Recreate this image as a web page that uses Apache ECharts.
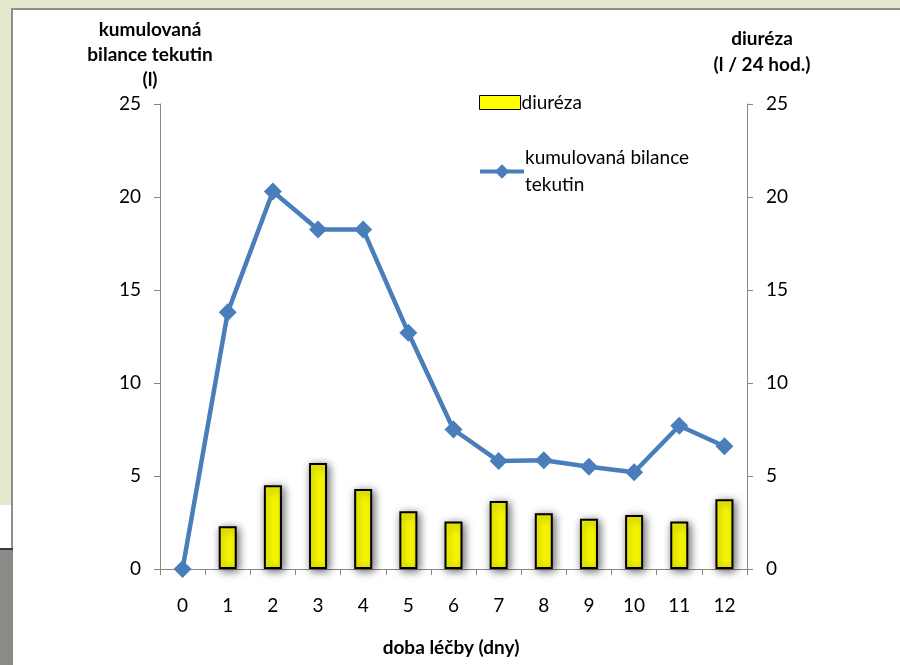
<!DOCTYPE html>
<html>
<head>
<meta charset="utf-8">
<script src="https://cdn.jsdelivr.net/npm/echarts@6/dist/echarts.min.js"></script>
<style>
html,body{margin:0;padding:0;background:#ffffff;}
#chart{width:900px;height:665px;}
</style>
</head>
<body>
<div id="chart"></div>
<script>
const days = ['0','1','2','3','4','5','6','7','8','9','10','11','12'];
const diureza = [null, 2.3, 4.5, 5.7, 4.3, 3.1, 2.55, 3.65, 3.0, 2.7, 2.9, 2.55, 3.75];
const bilance = [0, 13.8, 20.3, 18.25, 18.25, 12.7, 7.5, 5.8, 5.85, 5.5, 5.2, 7.7, 6.6];
const yTicks = [0, 5, 10, 15, 20, 25];

const FONT = 'Lato, "Open Sans", sans-serif';
const chart = echarts.init(document.getElementById('chart'), null, {renderer: 'canvas'});

const axisStyle = {show: true, lineStyle: {color: '#868686', width: 1}};

chart.setOption({
  backgroundColor: '#ffffff',
  animation: false,
  textStyle: {fontFamily: FONT},
  graphic: [
    {type: 'rect', z: -10, silent: true, shape: {x: 0, y: 0, width: 900, height: 9}, style: {fill: '#e3e9cd'}},
    {type: 'rect', z: -10, silent: true, shape: {x: 0, y: 0, width: 12, height: 505}, style: {fill: '#e3e9cd'}},
    {type: 'rect', z: -9, silent: true, shape: {x: 12, y: 8, width: 888, height: 2}, style: {fill: '#8e8e8e'}},
    {type: 'rect', z: -9, silent: true, shape: {x: 11, y: 8, width: 2, height: 541}, style: {fill: '#8e8e8e'}},
    {type: 'rect', z: -9, silent: true, shape: {x: 0, y: 548, width: 13, height: 2}, style: {fill: '#3a3a3a'}},
    {type: 'rect', z: -9, silent: true, shape: {x: 0, y: 550, width: 13, height: 115}, style: {fill: '#898b86'}},
    {type: 'text', silent: true, x: 150, y: 17, style: {text: 'kumulovaná\nbilance tekutin\n(l)', font: 'bold 19px ' + FONT, fill: '#000', align: 'center', verticalAlign: 'top', lineHeight: 25}},
    {type: 'text', silent: true, x: 762, y: 26, style: {text: 'diuréza\n(l / 24 hod.)', font: 'bold 19px ' + FONT, fill: '#000', align: 'center', verticalAlign: 'top', lineHeight: 26}},
    {type: 'text', silent: true, x: 451, y: 648, style: {text: 'doba léčby (dny)', font: 'bold 19px ' + FONT, fill: '#000', align: 'center', verticalAlign: 'middle'}}
  ],
  grid: {left: 160, right: 153, top: 104, bottom: 96, containLabel: false},
  legend: [
    {
      data: [{name: 'diuréza', icon: 'rect'}], left: 479, top: 93, padding: 0, itemWidth: 41, itemHeight: 14, orient: 'vertical',
      itemStyle: {borderWidth: 1, borderColor: '#000', shadowBlur: 0, shadowOffsetX: 0, shadowOffsetY: 0},
      textStyle: {fontFamily: FONT, fontSize: 19, color: '#000', padding: [0, 0, 0, -4]}
    },
    {
      data: ['kumulovaná bilance tekutin'], left: 478, top: 131, padding: 0, itemWidth: 44, itemHeight: 18, orient: 'vertical',
      lineStyle: {width: 4},
      formatter: function () { return 'kumulovaná bilance\ntekutin'; },
      textStyle: {fontFamily: FONT, fontSize: 19, color: '#000', lineHeight: 27, padding: [27, 0, 0, -4]}
    }
  ],
  xAxis: {
    type: 'category', data: days, boundaryGap: true,
    axisLine: axisStyle,
    axisTick: {show: true, interval: 0, length: 6, inside: false, lineStyle: {color: '#868686'}},
    axisLabel: {fontSize: 19, color: '#000', margin: 27, fontFamily: FONT}
  },
  yAxis: [
    {
      type: 'value', min: 0, max: 25, interval: 5, position: 'left',
      axisLine: axisStyle,
      axisTick: {show: true, length: 6, lineStyle: {color: '#868686'}},
      splitLine: {show: false},
      axisLabel: {fontSize: 19, color: '#000', margin: 19, fontFamily: FONT,
        formatter: function (v) { return yTicks.indexOf(v) >= 0 ? String(v) : ''; }}
    },
    {
      type: 'value', min: 0, max: 25, interval: 5, position: 'right',
      axisLine: axisStyle,
      axisTick: {show: true, length: 6, lineStyle: {color: '#868686'}},
      splitLine: {show: false},
      axisLabel: {fontSize: 19, color: '#000', margin: 19, fontFamily: FONT,
        formatter: function (v) { return yTicks.indexOf(v) >= 0 ? String(v) : ''; }}
    }
  ],
  series: [
    {
      name: 'diuréza', type: 'bar', yAxisIndex: 1, data: diureza, barWidth: 18, z: 2,
      itemStyle: {color: '#ffff00', borderColor: '#000000', borderWidth: 2,
        shadowColor: 'rgba(0,0,0,0.6)', shadowBlur: 8, shadowOffsetX: 2, shadowOffsetY: 2}
    },
    {
      name: 'kumulovaná bilance tekutin', type: 'line', yAxisIndex: 0, data: bilance, z: 5,
      symbol: 'diamond', symbolSize: 18, showAllSymbol: true,
      lineStyle: {color: '#4a7ebb', width: 4.5},
      itemStyle: {color: '#4a7ebb'}
    }
  ]
});
</script>
</body>
</html>
